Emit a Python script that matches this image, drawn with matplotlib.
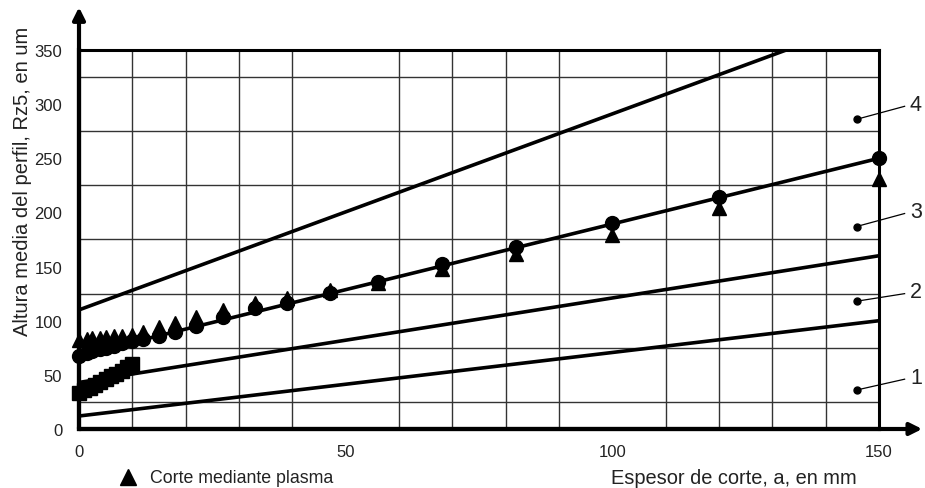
import numpy as np
import matplotlib
matplotlib.use('Agg')
import matplotlib.pyplot as plt
from matplotlib.lines import Line2D

plt.rcParams['font.family'] = ['Liberation Sans', 'DejaVu Sans']

#%% data
# straight reference lines 1..4 (start and end points)
line1_x = [0, 150]
line1_y = [12, 100]
line2_x = [0, 150]
line2_y = [43, 160]
line3_x = [0, 150]
line3_y = [68, 250]
line4_x = [0, 132.6]
line4_y = [110, 350]

# circles (on line 3)
circ_x = [0, 1.5, 2.5, 4, 5, 6.5, 8, 10, 12, 15, 18, 22, 27, 33, 39, 47, 56, 68, 82, 100, 120, 150]
circ_y = [67, 70, 72, 74, 75, 77, 79, 81, 83, 86, 90, 95, 103, 112, 116, 126, 136, 152, 168, 190, 214, 250]

# triangles (plasma cut)
tri_x = [0, 1.5, 2.5, 4, 5, 6.5, 8, 10, 12, 15, 18, 22, 27, 33, 39, 47, 56, 68, 82, 100, 120, 150]
tri_y = [82, 83, 84, 84, 85, 86, 86, 87, 90, 94, 98, 103, 110, 116, 121, 128, 135, 148, 162, 179, 204, 231]

# squares
sq_x = [0, 1, 2, 3, 4, 5, 6, 7, 8, 9, 10]
sq_y = [33, 36, 38, 41, 43, 46, 49, 51, 54, 57, 60]

# curve labels
lab_names = ['1', '2', '3', '4']
lab_dot_y = [36, 118, 187, 286]
lab_txt_y = [48, 127, 201, 300]

x_ticks = [0, 50, 100, 150]
y_ticks = [0, 50, 100, 150, 200, 250, 300, 350]

#%% figure
fig = plt.figure(figsize=(9.25, 4.89), dpi=100)
ax = fig.add_axes([79 / 925, 59 / 489, 800 / 925, 379 / 489])
ax.set_xlim(0, 150)
ax.set_ylim(0, 350)

# grid
ax.set_xticks(np.arange(0, 151, 10), minor=True)
ax.set_yticks(np.arange(0, 351, 25), minor=True)
ax.grid(True, which='minor', color='#333333', lw=1.0)
ax.set_xticks(x_ticks)
ax.set_yticks(y_ticks)
ax.tick_params(which='both', length=0)
ax.tick_params(axis='x', pad=11, labelsize=12, colors='#222222')
ax.tick_params(axis='y', pad=12, labelsize=12, colors='#222222')
ax.set_axisbelow(True)

for s in ['top', 'right']:
    ax.spines[s].set_linewidth(2.2)
for s in ['left', 'bottom']:
    ax.spines[s].set_linewidth(3)

# axis arrows
ax.annotate('', xy=(0, 1.113), xytext=(0, 0), xycoords='axes fraction',
            arrowprops=dict(arrowstyle='-|>', lw=3, color='black', mutation_scale=18,
                            shrinkA=0, shrinkB=0), annotation_clip=False)
ax.annotate('', xy=(1.054, 0), xytext=(0, 0), xycoords='axes fraction',
            arrowprops=dict(arrowstyle='-|>', lw=3, color='black', mutation_scale=18,
                            shrinkA=0, shrinkB=0), annotation_clip=False)

# lines
for lx, ly in [(line1_x, line1_y), (line2_x, line2_y), (line3_x, line3_y), (line4_x, line4_y)]:
    ax.plot(lx, ly, color='black', lw=2.6, solid_capstyle='butt', zorder=3)

# markers
ax.plot(sq_x, sq_y, 's', color='black', ms=10.5, ls='none', zorder=4, clip_on=False)
ax.plot(tri_x, tri_y, '^', color='black', ms=10, ls='none', zorder=4, clip_on=False)
ax.plot(circ_x, circ_y, 'o', color='black', ms=10, ls='none', zorder=5, clip_on=False)

# curve labels with leaders
for name, yd, yt in zip(lab_names, lab_dot_y, lab_txt_y):
    ax.plot([145.8], [yd], 'o', color='black', ms=5, clip_on=False, zorder=6)
    ax.plot([145.8, 154.8], [yd, yt - 2], color='black', lw=0.9, clip_on=False, zorder=6)
    ax.text(155.8, yt, name, fontsize=15.5, ha='left', va='center', color='#222222')

# texts
fig.text(23 / 925, 1 - 181 / 489, 'Altura media del perfil, Rz5, en um', rotation=90,
         ha='center', va='center', fontsize=14.5, color='#222222')
fig.add_artist(Line2D([128 / 925], [1 - 478 / 489], marker='^', ms=12, color='black',
                      ls='none', transform=fig.transFigure))
fig.text(150 / 925, 1 - 479 / 489, 'Corte mediante plasma', fontsize=12.8,
         ha='left', va='center', color='#222222')
fig.text(857 / 925, 1 - 479 / 489, 'Espesor de corte, a, en mm', fontsize=14.4,
         ha='right', va='center', color='#222222')

plt.savefig('out.png', dpi=100, facecolor='white')
